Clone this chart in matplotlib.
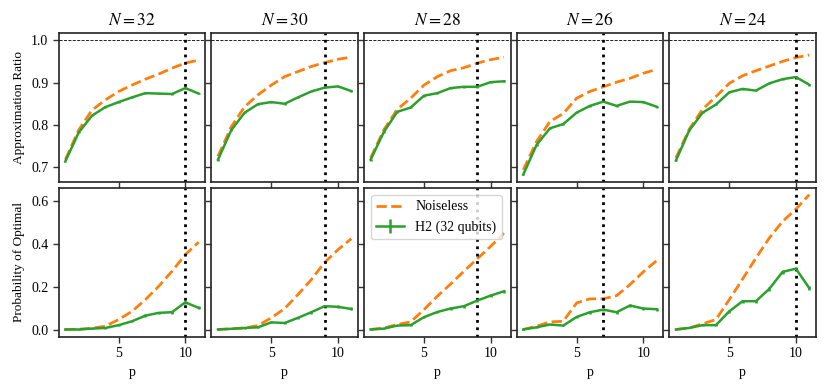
import numpy as np
import matplotlib
matplotlib.use("Agg")
import matplotlib.pyplot as plt

plt.rcParams['font.family'] = 'serif'
plt.rcParams['font.serif'] = ['Liberation Serif', 'DejaVu Serif']
plt.rcParams['mathtext.fontset'] = 'stix'
plt.rcParams['font.size'] = 10

# number of layers
p = [1, 2, 3, 4, 5, 6, 7, 8, 9, 10, 11]
N_values = [32, 30, 28, 26, 24]
# dotted line marks the chosen p for each N
best_p = [10, 9, 9, 7, 10]

# approximation ratio, noiseless simulation
ar_noiseless = [
    [0.718, 0.788, 0.835, 0.859, 0.879, 0.894, 0.908, 0.920, 0.934, 0.946, 0.953],
    [0.726, 0.796, 0.843, 0.871, 0.894, 0.914, 0.926, 0.938, 0.947, 0.955, 0.960],
    [0.722, 0.789, 0.837, 0.863, 0.894, 0.914, 0.928, 0.935, 0.946, 0.954, 0.960],
    [0.694, 0.761, 0.808, 0.827, 0.863, 0.879, 0.890, 0.901, 0.910, 0.922, 0.931],
    [0.722, 0.790, 0.837, 0.867, 0.898, 0.916, 0.928, 0.939, 0.950, 0.959, 0.965],
]
# approximation ratio, H2 hardware
ar_h2 = [
    [0.714, 0.782, 0.822, 0.842, 0.854, 0.865, 0.875, 0.874, 0.873, 0.887, 0.874],
    [0.718, 0.788, 0.829, 0.849, 0.854, 0.850, 0.865, 0.879, 0.888, 0.891, 0.880],
    [0.718, 0.784, 0.831, 0.841, 0.869, 0.875, 0.887, 0.890, 0.890, 0.901, 0.903],
    [0.683, 0.753, 0.792, 0.802, 0.829, 0.845, 0.855, 0.845, 0.855, 0.854, 0.843],
    [0.716, 0.787, 0.829, 0.848, 0.877, 0.885, 0.881, 0.898, 0.908, 0.913, 0.895],
]
ar_h2_err = [
    [0.002, 0.002, 0.002, 0.002, 0.002, 0.002, 0.002, 0.002, 0.002, 0.002, 0.002],
    [0.002, 0.002, 0.002, 0.002, 0.002, 0.002, 0.002, 0.002, 0.002, 0.002, 0.002],
    [0.002, 0.002, 0.002, 0.002, 0.002, 0.002, 0.002, 0.002, 0.002, 0.002, 0.002],
    [0.002, 0.002, 0.002, 0.002, 0.002, 0.002, 0.002, 0.002, 0.002, 0.002, 0.002],
    [0.002, 0.002, 0.002, 0.002, 0.002, 0.002, 0.002, 0.002, 0.002, 0.002, 0.002],
]

# probability of optimal, noiseless
po_noiseless = [
    [0.002, 0.003, 0.008, 0.017, 0.048, 0.086, 0.140, 0.202, 0.272, 0.349, 0.407],
    [0.002, 0.005, 0.009, 0.020, 0.056, 0.099, 0.164, 0.233, 0.313, 0.372, 0.423],
    [0.002, 0.009, 0.025, 0.037, 0.094, 0.156, 0.213, 0.272, 0.330, 0.387, 0.449],
    [0.002, 0.017, 0.037, 0.040, 0.125, 0.144, 0.144, 0.159, 0.210, 0.269, 0.321],
    [0.002, 0.009, 0.028, 0.048, 0.140, 0.236, 0.333, 0.426, 0.503, 0.560, 0.627],
]
# probability of optimal, H2 hardware
po_h2 = [
    [0.002, 0.002, 0.006, 0.009, 0.022, 0.040, 0.066, 0.079, 0.082, 0.128, 0.102],
    [0.002, 0.005, 0.009, 0.012, 0.035, 0.032, 0.056, 0.082, 0.110, 0.107, 0.097],
    [0.002, 0.006, 0.020, 0.022, 0.059, 0.083, 0.099, 0.110, 0.136, 0.159, 0.179],
    [0.002, 0.012, 0.025, 0.020, 0.060, 0.082, 0.094, 0.082, 0.113, 0.099, 0.096],
    [0.002, 0.009, 0.022, 0.022, 0.086, 0.133, 0.133, 0.190, 0.269, 0.284, 0.194],
]
po_h2_err = [
    [0.001, 0.002, 0.003, 0.003, 0.004, 0.005, 0.006, 0.006, 0.006, 0.007, 0.007],
    [0.001, 0.002, 0.003, 0.003, 0.004, 0.004, 0.005, 0.006, 0.007, 0.007, 0.007],
    [0.001, 0.002, 0.004, 0.004, 0.005, 0.006, 0.006, 0.007, 0.007, 0.008, 0.008],
    [0.001, 0.003, 0.004, 0.004, 0.005, 0.006, 0.006, 0.006, 0.007, 0.007, 0.007],
    [0.001, 0.002, 0.004, 0.004, 0.006, 0.007, 0.007, 0.008, 0.009, 0.009, 0.008],
]

ORANGE = '#ff7f0e'
GREEN = '#2ca02c'

fig, axs = plt.subplots(2, 5, figsize=(8.3, 3.91), dpi=100, sharex=True, sharey='row')
fig.subplots_adjust(left=0.0707, right=0.983, top=0.9156, bottom=0.139,
                    wspace=0.041, hspace=0.042)

for i, N in enumerate(N_values):
    ax = axs[0, i]
    ax.plot(p, ar_noiseless[i], '--', color=ORANGE, lw=2)
    ax.errorbar(p, ar_h2[i], yerr=ar_h2_err[i], color=GREEN, lw=1.8)
    ax.axhline(1.0, color='k', ls='--', lw=0.6)
    ax.axvline(best_p[i], color='k', ls=':', lw=2)
    ax.set_title(f'$N = {N}$', fontsize=12.5)

    ax = axs[1, i]
    ax.plot(p, po_noiseless[i], '--', color=ORANGE, lw=2, label='Noiseless')
    ax.errorbar(p, po_h2[i], yerr=po_h2_err[i], color=GREEN, lw=1.8,
                label='H2 (32 qubits)')
    ax.axvline(best_p[i], color='k', ls=':', lw=2)
    ax.set_xlabel('p', fontsize=10)

for ax in axs.flat:
    for s in ax.spines.values():
        s.set_linewidth(1.2)
        s.set_color('#222222')
    ax.tick_params(width=1.0, length=4, color='#333333', labelsize=10)

axs[0, 0].set_ylim(0.666, 1.017)
axs[0, 0].set_yticks([0.7, 0.8, 0.9, 1.0])
axs[1, 0].set_yticks([0.0, 0.2, 0.4, 0.6])
axs[0, 0].set_xticks([5, 10])
axs[0, 0].set_ylabel('Approximation Ratio', fontsize=9.5)
axs[1, 0].set_ylabel('Probability of Optimal', fontsize=9.5)

axs[1, 2].legend(loc='upper left', fontsize=10)

plt.savefig('out.png', dpi=100)
